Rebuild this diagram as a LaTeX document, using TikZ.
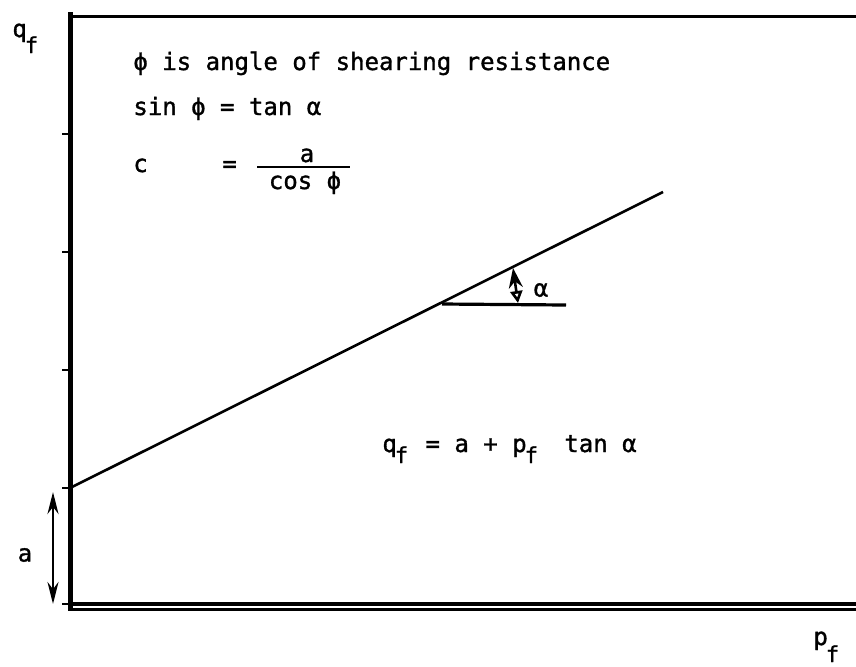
\documentclass[tikz,border=0pt]{standalone}
\usepackage{fontspec}
\newfontfamily\tyf[FakeBold=1.3]{DejaVu Sans Mono}
\usetikzlibrary{arrows.meta}
\newcommand{\subfx}[1]{\raisebox{-#1}{\fontsize{11}{12}\selectfont f}}
\begin{document}
\begin{tikzpicture}[x=0.5pt,y=-0.5pt,
  txt/.style={font=\tyf\fontsize{12}{14}\selectfont, inner sep=0pt},
  axisline/.style={line width=2.5pt},
  tickline/.style={line width=1pt}]
\useasboundingbox (0,0) rectangle (856,666);
% axes
\coordinate (ytop) at (70,12);
\coordinate (ybot) at (70,611);
\coordinate (tl) at (68,16);
\coordinate (tr) at (856,16);
\draw[axisline] (ytop) -- (ybot);
\draw[line width=1.5pt] (tl) -- (tr);
\coordinate (b1l) at (70,604);
\coordinate (b1r) at (856,604);
\coordinate (b2l) at (70,609.5);
\coordinate (b2r) at (856,609.5);
\draw[line width=2pt] (b1l) -- (b1r);
\draw[line width=1.2pt] (b2l) -- (b2r);
% ticks
\foreach \yy/\nm in {134/t1,252/t2,370/t3,488/t4,604/t5}{
  \coordinate (\nm a) at (62,\yy);
  \coordinate (\nm b) at (70,\yy);
  \draw[tickline] (\nm a) -- (\nm b);
}
% main line
\coordinate (ls) at (70,488);
\coordinate (le) at (663,192);
\draw[line width=1.3pt] (ls) -- (le);
% horizontal reference
\coordinate (hs) at (442,304);
\coordinate (he) at (566,305);
\draw[line width=1.6pt] (hs) -- (he);
% alpha arrow
\coordinate (aa) at (513,268);
\coordinate (ab) at (518,303);
\draw[line width=1.3pt, {Stealth[length=10pt,width=7pt]}-{Triangle[open,length=6pt,width=6pt]}] (aa) -- (ab);
\node[txt] (alpha) at (541,290) {α};
% a arrow
\coordinate (ra) at (53,492);
\coordinate (rb) at (53,604);
\draw[line width=1.3pt, {Stealth[length=11pt,width=5.5pt]}-{Stealth[length=11pt,width=5.5pt]}] (ra) -- (rb);
\node[txt] (alab) at (25,555) {a};
% axis labels
\node[txt, anchor=base west] (qf) at (12,37) {q\kern-1pt\subfx{8pt}};
\node[txt, anchor=base west] (pf) at (813,645) {p\kern-1pt\subfx{8.5pt}};
% text block
\node[txt, anchor=base west] (l1) at (133,70) {ϕ is angle of shearing resistance};
\node[txt, anchor=base west] (l2) at (133,115) {sin ϕ = tan α};
\node[txt, anchor=base west] (l3c) at (133,172) {c};
\node[txt, anchor=base west] (l3e) at (222,172) {=};
\node[txt, anchor=base] (fnum) at (307,162) {a};
\coordinate (fb1) at (257,167);
\coordinate (fb2) at (350,167);
\draw[line width=0.9pt] (fb1) -- (fb2);
\node[txt, anchor=base] (fden) at (305,189) {cos ϕ};
% equation
\node[txt, anchor=base west] (eq) at (382,452) {q\kern-1pt\subfx{5.5pt}\kern1.5pt{} = a + p\kern-1pt\subfx{5.5pt}\kern6pt{} tan α};
\end{tikzpicture}
\end{document}
